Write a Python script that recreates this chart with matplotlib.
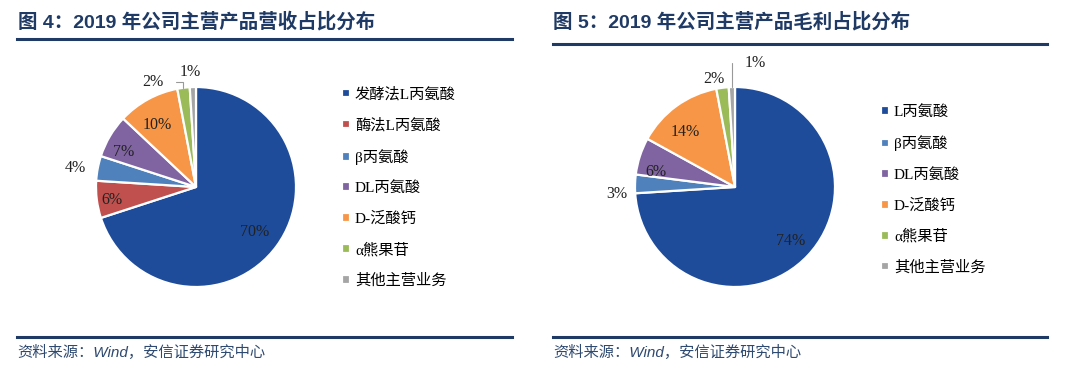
import numpy as np
import matplotlib.pyplot as plt

plt.rcParams['font.family'] = ['Liberation Serif', 'Noto Sans CJK SC', 'DejaVu Sans']

# left chart: revenue share 2019
rev_labels = ["发酵法L丙氨酸", "酶法L丙氨酸", "β丙氨酸", "DL丙氨酸", "D-泛酸钙", "α熊果苷", "其他主营业务"]
rev_values = [70, 6, 4, 7, 10, 2, 1]
rev_colors = ["#1E4C9A", "#C0504D", "#4F81BD", "#8064A2", "#F79646", "#9BBB59", "#A5A5A5"]

# right chart: gross profit share 2019
gp_labels = ["L丙氨酸", "β丙氨酸", "DL丙氨酸", "D-泛酸钙", "α熊果苷", "其他主营业务"]
gp_values = [74, 3, 6, 14, 2, 1]
gp_colors = ["#1E4C9A", "#4F81BD", "#8064A2", "#F79646", "#9BBB59", "#A5A5A5"]

navy = "#1F3A64"
W, H = 1080, 375

fig = plt.figure(figsize=(10.8, 3.75), dpi=100)


def fx(px):
    return px / W


def fy(py):
    return 1 - py / H


def draw_pie(ax, values, colors, label_pos):
    wedges, _ = ax.pie(values, colors=colors, startangle=90, counterclock=False,
                       wedgeprops=dict(edgecolor="white", linewidth=1.6))
    ax.set_xlim(-1.3, 1.3)
    ax.set_ylim(-1.3, 1.3)
    ax.set_aspect("equal")
    for w, v, (r, dang, leader) in zip(wedges, values, label_pos):
        mid = np.deg2rad((w.theta1 + w.theta2) / 2)
        ang = mid + np.deg2rad(dang)
        x, y = r * np.cos(ang), r * np.sin(ang)
        txt = f"{v}%"
        if leader is None:
            ax.text(x, y, txt, ha="center", va="center", fontsize=11.5, color="#222222")
        else:
            ex, ey = 1.0 * np.cos(mid), 1.0 * np.sin(mid)
            ax.annotate(txt, xy=(ex, ey), xytext=(x, y), ha="center", va="center",
                        fontsize=11.5, color="#222222",
                        arrowprops=dict(arrowstyle="-", color="#999999", lw=0.8,
                                        connectionstyle=leader, shrinkA=7, shrinkB=0))
    return wedges


# label placement: (radius, angle offset in degrees, leader connection)
rev_pos = [(0.74, -1, None), (0.85, 1.5, None), (1.22, 2, None), (0.80, 5, None),
           (0.73, 3, None), (1.13, 15, "angle,angleA=0,angleB=90,rad=0"), (1.15, 1, None)]
gp_pos = [(0.78, -1, None), (1.18, 5, None), (0.81, 7, None), (0.74, 6, None),
          (1.10, 4, None), (1.26, -11, "angle,angleA=180,angleB=90,rad=0")]

ax1 = fig.add_axes([fx(196 - 130), fy(187 + 130), fx(260), 260 / H])
w1 = draw_pie(ax1, rev_values, rev_colors, rev_pos)
ax2 = fig.add_axes([fx(735 - 130), fy(187 + 130), fx(260), 260 / H])
w2 = draw_pie(ax2, gp_values, gp_colors, gp_pos)

leg_kw = dict(frameon=False, loc="upper left", fontsize=11, handlelength=0.5, handleheight=0.5,
              handletextpad=0.35, labelspacing=1.08, borderpad=0, borderaxespad=0)
fig.legend(w1, rev_labels, bbox_to_anchor=(fx(342), fy(87)), **leg_kw)
fig.legend(w2, gp_labels, bbox_to_anchor=(fx(881), fy(105)), **leg_kw)

# titles, rules and source notes
title_font = ['Liberation Sans', 'Noto Sans CJK SC']
fig.text(fx(18), fy(22), "图 4：2019 年公司主营产品营收占比分布", family=title_font,
         fontsize=14, fontweight="bold", color=navy, va="center")
fig.text(fx(553), fy(22), "图 5：2019 年公司主营产品毛利占比分布", family=title_font,
         fontsize=14, fontweight="bold", color=navy, va="center")

for x0, x1, y in [(17, 512, 39), (553, 1047, 44), (17, 512, 337), (553, 1047, 337)]:
    fig.add_artist(plt.Line2D([fx(x0), fx(x1)], [fy(y), fy(y)], color=navy, lw=2.2))

for x0 in (17, 553):
    fig.text(fx(x0), fy(352), "资料来源：Wind，安信证券研究中心", family=title_font,
             fontsize=11, style="italic", color="#2F4A70", va="center")

fig.savefig("out.png", dpi=100)
